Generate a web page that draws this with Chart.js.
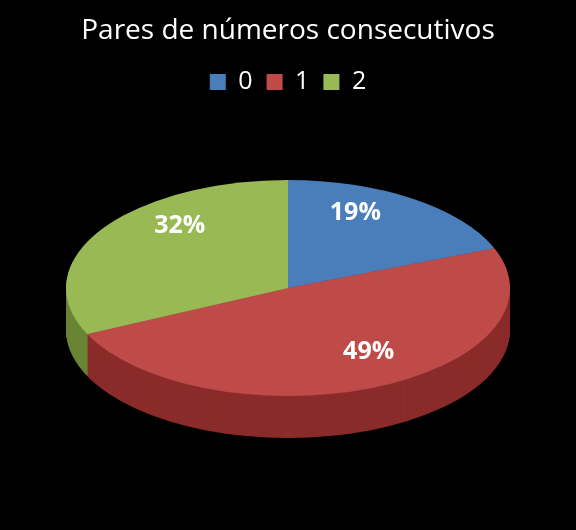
<!DOCTYPE html>
<html><head><meta charset="utf-8">
<script src="https://cdn.jsdelivr.net/npm/chart.js@4"></script>
<style>html,body{margin:0;background:#000}#w{width:576px;height:530px}</style>
</head><body><div id="w"><canvas id="c"></canvas></div>
<script>
const categories = ['0','1','2'];
const values = [19, 49, 32];
const topColors = ['#4a7ebb','#be4b48','#98b954'];
const sideColors = ['#2f5587','#8a2c2a','#6a8535'];

const pie3d = {
  id:'pie3d',
  beforeDatasetsDraw(chart){
    const ctx = chart.ctx;
    const meta = chart.getDatasetMeta(0);
    const a0 = meta.data[0];
    const ax = a0.x, ay = a0.y, R = a0.outerRadius;
    const cx = 288, cy = 288, rx = 222, ry = 108, depth = 42;
    const path = (arc)=>{
      ctx.beginPath();
      ctx.moveTo(ax, ay);
      ctx.arc(ax, ay, R, arc.startAngle, arc.endAngle);
      ctx.closePath();
    };
    const xf = (dy)=>{
      ctx.setTransform(1,0,0,1,0,0);
      ctx.translate(cx, cy+dy);
      ctx.scale(rx/R, ry/R);
      ctx.translate(-ax, -ay);
    };
    ctx.save();
    const order = [0,2,1];
    for (let d = depth; d >= 1; d--) {
      order.forEach(i=>{
        xf(d); path(meta.data[i]);
        ctx.fillStyle = sideColors[i]; ctx.fill();
      });
    }
    meta.data.forEach((arc,i)=>{
      xf(0); path(arc);
      ctx.fillStyle = topColors[i]; ctx.fill();
    });
    ctx.setTransform(1,0,0,1,0,0);
    ctx.fillStyle = '#fff';
    ctx.font = 'bold 25px "Open Sans", sans-serif';
    ctx.textAlign = 'center'; ctx.textBaseline = 'middle';
    const total = values.reduce((a,b)=>a+b,0);
    const off = [[-10,-20],[26,-16],[8,-26]];
    meta.data.forEach((arc,i)=>{
      const m = (arc.startAngle+arc.endAngle)/2;
      const x = cx + Math.cos(m)*rx*0.62 + off[i][0];
      const y = cy + Math.sin(m)*ry*0.62 + (i===1?18:0) + off[i][1];
      ctx.fillText(Math.round(values[i]/total*100)+'%', x, y);
    });
    ctx.restore();
    return false;
  }
};

new Chart(document.getElementById('c'), {
  type:'pie',
  data:{labels:categories, datasets:[{data:values, backgroundColor:topColors, borderWidth:0}]},
  plugins:[pie3d],
  options:{
    responsive:true, maintainAspectRatio:false, animation:false,
    layout:{padding:{top:10,bottom:20}},
    plugins:{
      tooltip:{enabled:false},
      title:{display:true, text:'Pares de números consecutivos', color:'#fff',
        font:{size:28, family:'"Open Sans", sans-serif', weight:'normal'}, padding:{top:4,bottom:8}},
      legend:{display:true, position:'top',
        labels:{color:'#fff', boxWidth:16, boxHeight:16, padding:14,
          font:{size:25, family:'"Open Sans", sans-serif'}}}
    }
  }
});
</script></body></html>
